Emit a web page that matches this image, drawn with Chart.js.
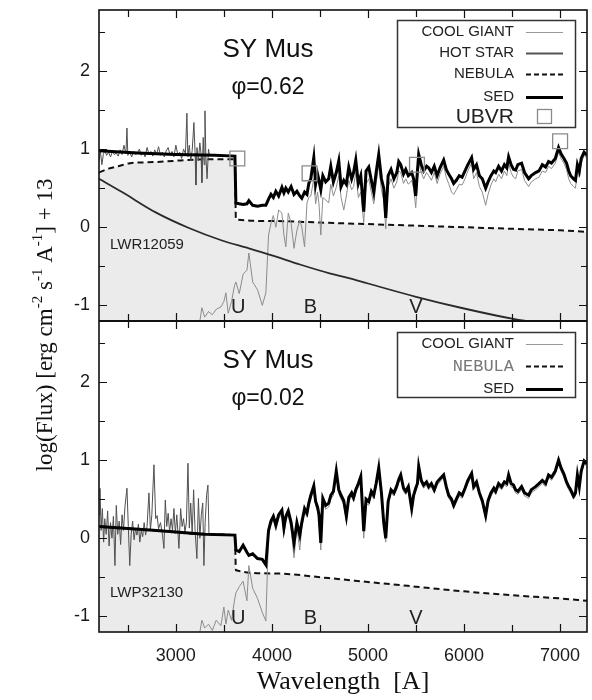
<!DOCTYPE html>
<html><head><meta charset="utf-8">
<script src="https://cdn.jsdelivr.net/npm/chart.js@4.4.1/dist/chart.umd.min.js"></script>
<style>html,body{margin:0;padding:0;background:#fff}#wrap{width:592px;height:700px;position:relative}</style>
</head><body><div id="wrap"><canvas id="c" width="592" height="700"></canvas></div>
<script>
// ---------- axis ticks ----------
const xTickLabels = [3000, 4000, 5000, 6000, 7000];
const xMinorTicks = [2500, 3500, 4500, 5500, 6500];
const yTickLabels = [-1, 0, 1, 2];
const yMinorTicks = [-0.5, 0.5, 1.5, 2.5];

// ---------- photometric bands ----------
const bandNames = ['U', 'B', 'V'];
const bandW = [3650, 4400, 5500];

// ---------- top panel: phi = 0.62 (LWR12059) ----------
const obsTopW = [2200,2215,2230,2245,2260,2280,2300,2320,2340,2360,
  2380,2400,2420,2440,2460,2480,2491,2500,2520,2540,
  2560,2580,2600,2620,2640,2660,2680,2700,2720,2740,
  2760,2780,2800,2820,2840,2860,2880,2900,2920,2940,
  2960,2980,3000,3020,3040,3060,3080,3100,3115,3125,
  3140,3155,3170,3188,3200,3209,3220,3235,3250,3262,
  3271,3285,3295,3303,3312,3325,3340,3350];
const obsTopV = [0.85,0.97,0.80,0.93,0.98,0.92,0.96,0.90,0.97,0.93,
  0.95,0.91,0.99,0.93,1.05,0.94,1.27,0.92,0.96,0.90,
  0.97,0.93,0.95,1.00,0.92,0.96,0.90,1.02,0.94,0.97,
  0.91,0.99,0.93,1.03,0.92,0.96,0.90,0.98,1.02,0.92,
  0.97,0.90,1.05,0.93,0.96,0.88,1.00,0.94,1.46,0.90,
  1.05,0.85,0.98,1.34,0.95,0.54,1.02,0.85,1.08,0.94,
  0.57,1.15,0.80,1.49,0.92,0.62,1.00,0.92];

const sedTopUvW = [2200, 2600, 3000, 3400, 3615];
const sedTopUvV = [0.98, 0.95, 0.93, 0.92, 0.91];

const nebTopW = [2200,2300,2400,2522,2700,2876,3100,3350,3615,3625,4000,4500,5000,5500,6000,6500,7000,7280];
const nebTopV = [0.70,0.75,0.78,0.82,0.83,0.84,0.86,0.87,0.87,0.10,0.08,0.06,0.04,0.02,0.00,-0.02,-0.04,-0.06];

const hotTopW = [2200,2440,2790,3136,3480,3760,4000,4300,4600,4800,5000,5500,6000,6540,6640];
const hotTopV = [0.62,0.45,0.19,-0.01,-0.17,-0.27,-0.36,-0.48,-0.59,-0.65,-0.72,-0.89,-1.04,-1.18,-1.2];

const cgBlueW = [3250,3271,3300,3340,3380,3420,3469,3500,3521,3545,3580,3610];
const cgTopBlueV = [-1.2,-1.03,-1.15,-1.08,-1.12,-1.05,-1.02,-0.95,-0.84,-1.10,-0.95,-0.75];
const cgBotBlueV = [-1.2,-1.05,-1.15,-1.10,-1.18,-1.05,-1.12,-0.88,-1.10,-0.92,-1.05,-0.80];

// optical wavelength grid shared by SED and cool giant spectra
const wOpt = [3625,3660,3700,3740,3760,3800,3850,3900,3937,3965,
  3990,4015,4041,4070,4104,4125,4145,4170,4200,4230,
  4260,4290,4311,4340,4365,4384,4405,4436,4455,4475,
  4490,4509,4530,4560,4591,4613,4640,4670,4696,4720,
  4748,4775,4800,4830,4850,4873,4900,4925,4956,4980,
  5008,5035,5060,5085,5112,5140,5164,5185,5210,5240,
  5270,5300,5320,5341,5370,5393,5420,5455,5475,5497,
  5515,5528,5555,5580,5610,5632,5660,5690,5720,5750,
  5788,5815,5840,5870,5892,5920,5950,5980,6010,6040,
  6079,6100,6130,6160,6190,6225,6250,6280,6310,6329,
  6360,6390,6420,6445,6464,6490,6515,6537,6560,6599,
  6630,6672,6700,6745,6780,6815,6849,6880,6910,6950,
  6984,7010,7040,7067,7090,7110,7140,7160,7180,7200,
  7220,7250,7280];

const sedTopOpt = [0.31,0.30,0.29,0.30,0.34,0.28,0.27,0.28,0.28,0.36,
  0.42,0.38,0.46,0.40,0.51,0.44,0.50,0.45,0.52,0.42,
  0.46,0.40,0.37,0.45,0.42,0.56,0.62,0.89,0.55,0.68,
  0.60,0.48,0.66,0.58,0.62,0.78,0.58,0.70,0.85,0.52,
  0.60,0.55,0.77,0.62,0.70,0.86,0.56,0.66,0.20,0.72,
  0.77,0.60,0.45,0.70,0.93,0.62,0.50,0.12,0.66,0.74,
  0.62,0.70,0.84,0.80,0.68,0.74,0.66,0.70,0.62,0.40,
  0.72,0.93,0.80,0.72,0.78,0.76,0.70,0.78,0.66,0.76,
  0.86,0.74,0.68,0.62,0.56,0.60,0.66,0.64,0.72,0.80,
  0.89,0.74,0.80,0.66,0.62,0.50,0.58,0.66,0.72,0.70,
  0.78,0.72,0.80,0.76,0.90,0.80,0.74,0.73,0.80,0.82,
  0.70,0.62,0.66,0.70,0.72,0.80,0.77,0.84,0.82,0.88,
  1.02,0.94,0.88,0.82,0.72,0.66,0.62,0.60,0.80,0.72,
  0.88,0.96,0.92];

const cgTopOpt = [-0.70,-0.85,-0.60,-0.55,-0.33,-0.70,-0.80,-1.00,-0.84,-0.10,
  0.05,0.15,0.00,0.22,0.18,-0.10,-0.25,0.18,0.05,-0.27,
  -0.04,0.09,0.00,-0.25,0.31,0.38,0.40,0.62,0.30,0.45,
  0.30,-0.10,0.38,0.35,0.31,0.55,0.40,0.51,0.66,0.38,
  0.22,0.40,0.60,0.48,0.52,0.70,0.38,0.45,0.06,0.55,
  0.62,0.45,0.30,0.56,0.80,0.48,0.35,-0.02,0.52,0.62,
  0.50,0.58,0.72,0.70,0.56,0.62,0.55,0.60,0.50,0.25,
  0.60,0.84,0.70,0.62,0.70,0.66,0.60,0.70,0.56,0.68,
  0.78,0.64,0.56,0.45,0.42,0.48,0.55,0.54,0.62,0.72,
  0.82,0.62,0.70,0.52,0.45,0.28,0.42,0.54,0.62,0.58,
  0.68,0.62,0.72,0.66,0.82,0.70,0.64,0.62,0.72,0.74,
  0.60,0.52,0.58,0.62,0.64,0.72,0.70,0.78,0.75,0.82,
  0.96,0.88,0.82,0.74,0.62,0.56,0.52,0.50,0.72,0.64,
  0.82,0.92,0.88];

const ubvrW = [3640, 4392, 5510, 7000];
const ubvrV = [0.88, 0.69, 0.80, 1.10];

// ---------- bottom panel: phi = 0.02 (LWP32130) ----------
const obsBotW = [2200,2210,2222,2235,2248,2260,2275,2290,2305,2320,
  2335,2350,2366,2380,2395,2410,2425,2440,2455,2470,
  2491,2505,2520,2535,2550,2565,2580,2595,2610,2625,
  2640,2655,2670,2685,2700,2720,2735,2750,2772,2790,
  2805,2820,2840,2860,2876,2890,2905,2920,2935,2950,
  2965,2980,2995,3010,3032,3050,3065,3080,3095,3110,
  3126,3140,3155,3170,3185,3200,3219,3235,3250,3265,
  3280,3292,3305,3320,3334,3345];
const obsBotV = [0.30,0.64,0.10,0.38,-0.05,0.25,0.05,0.35,-0.10,0.20,
  0.00,0.28,-0.35,0.42,0.05,0.22,-0.08,0.30,0.10,0.40,
  0.64,0.15,-0.35,0.05,0.22,-0.02,0.12,0.04,0.18,-0.05,
  0.10,0.02,0.20,0.04,0.15,0.58,0.10,0.30,0.94,0.25,
  0.29,0.12,0.20,0.05,-0.13,0.49,0.15,0.32,0.08,0.25,
  0.10,0.38,0.06,0.30,-0.13,0.38,0.15,0.25,0.08,0.20,
  0.96,0.13,0.45,0.05,0.62,0.10,-0.26,0.51,0.00,0.30,
  0.45,-0.35,0.20,0.55,0.68,0.05];

const sedBotUvW = [2200, 2800, 3300, 3615];
const sedBotUvV = [0.15, 0.10, 0.05, 0.04];

const nebBotW = [2200,2800,3300,3615,3625,4000,4591,5000,5500,6000,6500,7000,7280];
const nebBotV = [0.15,0.10,0.05,0.04,-0.41,-0.45,-0.51,-0.56,-0.62,-0.68,-0.73,-0.77,-0.80];

const sedBotOpt = [-0.15,-0.17,-0.09,-0.18,-0.22,-0.20,-0.26,-0.27,-0.34,0.10,
  0.22,0.28,0.17,0.30,0.36,0.13,0.28,0.35,0.20,-0.06,
  0.20,0.04,0.20,0.38,0.32,0.45,0.55,0.67,0.47,0.40,
  0.30,-0.06,0.51,0.42,0.45,0.55,0.60,0.86,0.62,0.55,
  0.48,0.28,0.52,0.58,0.52,0.62,0.70,0.79,0.09,0.50,
  0.47,0.60,0.55,0.70,0.90,0.58,0.20,0.00,0.47,0.62,
  0.58,0.67,0.75,0.81,0.64,0.60,0.66,0.38,0.55,0.64,
  0.70,0.92,0.74,0.68,0.72,0.66,0.70,0.62,0.72,0.76,
  0.81,0.66,0.55,0.50,0.42,0.50,0.58,0.55,0.64,0.74,
  0.83,0.66,0.72,0.58,0.48,0.29,0.48,0.58,0.64,0.60,
  0.70,0.66,0.72,0.70,0.81,0.70,0.68,0.62,0.60,0.66,
  0.58,0.55,0.62,0.66,0.70,0.74,0.70,0.81,0.78,0.86,
  1.00,0.90,0.82,0.72,0.66,0.62,0.54,0.58,0.81,0.66,
  0.86,0.99,0.95];

const cgBotOpt = [-0.70,-0.62,-0.55,-0.80,-0.35,-0.64,-0.77,-0.95,-1.06,0.05,
  0.17,0.24,0.10,0.25,0.31,0.05,0.22,0.30,0.12,-0.25,
  0.14,-0.15,0.14,0.33,0.27,0.40,0.50,0.62,0.42,0.35,
  0.24,-0.15,0.46,0.37,0.40,0.50,0.55,0.82,0.57,0.50,
  0.43,0.22,0.47,0.53,0.47,0.58,0.66,0.75,0.00,0.45,
  0.42,0.56,0.50,0.66,0.86,0.53,0.14,-0.05,0.42,0.58,
  0.54,0.63,0.71,0.77,0.60,0.56,0.62,0.33,0.51,0.60,
  0.66,0.89,0.70,0.64,0.68,0.62,0.66,0.58,0.68,0.72,
  0.78,0.62,0.51,0.46,0.38,0.46,0.54,0.51,0.60,0.70,
  0.80,0.62,0.68,0.54,0.44,0.25,0.44,0.54,0.60,0.56,
  0.66,0.62,0.68,0.66,0.78,0.66,0.64,0.58,0.56,0.62,
  0.54,0.51,0.58,0.62,0.66,0.70,0.66,0.78,0.74,0.82,
  0.97,0.86,0.78,0.68,0.62,0.58,0.50,0.54,0.78,0.62,
  0.82,0.96,0.92];

// ---------- helpers ----------
const pts = (w, v) => w.map((x, i) => ({x: x, y: v[i]}));
const FILL = '#ebebeb';
const C_SED = '#000', C_CG = '#8c8c8c', C_OBS = '#505050', C_HOT = '#2a2a2a', C_NEB = '#111';

const lineDs = (label, data, yAxisID, color, width, order, extra) => Object.assign({
  label, data, yAxisID, xAxisID: 'x', borderColor: color, borderWidth: width,
  pointRadius: 0, fill: false, order, tension: 0
}, extra || {});

const datasets = [
  // top panel
  lineDs('NEBULA', pts(nebTopW, nebTopV), 'yT', C_NEB, 2, 5, {borderDash: [6, 4], fill: 'start', backgroundColor: FILL, cubicInterpolationMode: 'monotone'}),
  lineDs('LWR12059', pts(obsTopW, obsTopV), 'yT', C_OBS, 1, 4),
  lineDs('COOL GIANT', pts(cgBlueW.concat(wOpt), cgTopBlueV.concat(cgTopOpt)), 'yT', C_CG, 1, 3),
  lineDs('HOT STAR', pts(hotTopW, hotTopV), 'yT', C_HOT, 1.8, 2, {cubicInterpolationMode: 'monotone'}),
  lineDs('SED', pts(sedTopUvW.concat(wOpt), sedTopUvV.concat(sedTopOpt)), 'yT', C_SED, 3, 1),
  {label: 'UBVR', data: pts(ubvrW, ubvrV), yAxisID: 'yT', xAxisID: 'x', showLine: false,
   pointStyle: 'rect', pointRadius: 10.5, pointBorderColor: '#8a8a8a', pointBorderWidth: 1.3,
   pointBackgroundColor: 'rgba(0,0,0,0)', borderColor: '#8a8a8a', order: 0},
  // bottom panel
  lineDs('NEBULA', pts(nebBotW, nebBotV), 'yB', C_NEB, 2, 5, {borderDash: [6, 4], fill: 'start', backgroundColor: FILL, cubicInterpolationMode: 'monotone'}),
  lineDs('LWP32130', pts(obsBotW, obsBotV), 'yB', C_OBS, 1, 4),
  lineDs('COOL GIANT', pts(cgBlueW.concat(wOpt), cgBotBlueV.concat(cgBotOpt)), 'yB', C_CG, 1, 3),
  lineDs('SED', pts(sedBotUvW.concat(wOpt), sedBotUvV.concat(sedBotOpt)), 'yB', C_SED, 3, 1)
];

// clip each dataset to its own panel
const panelClip = {
  id: 'panelClip',
  beforeDatasetDraw(chart, args) {
    const ys = chart.scales[args.meta.yAxisID];
    const ca = chart.chartArea, ctx = chart.ctx;
    ctx.save();
    ctx.beginPath();
    ctx.rect(ca.left - 2, ys.top, ca.right - ca.left + 4, ys.bottom - ys.top);
    ctx.clip();
  },
  afterDatasetDraw(chart) { chart.ctx.restore(); }
};

function drawSupText(ctx, parts, cx, cy, big, small, family) {
  let total = 0;
  parts.forEach(p => { ctx.font = (p.sup ? small : big) + 'px ' + family; total += ctx.measureText(p.t).width; });
  let x = cx - total / 2;
  parts.forEach(p => {
    ctx.font = (p.sup ? small : big) + 'px ' + family;
    ctx.fillText(p.t, x, p.sup ? cy - big * 0.42 : cy);
    x += ctx.measureText(p.t).width;
  });
}

const decor = {
  id: 'decor',
  afterDraw(chart) {
    const ctx = chart.ctx, ca = chart.chartArea;
    const xs = chart.scales.x, yT = chart.scales.yT, yB = chart.scales.yB;
    ctx.save();
    ctx.strokeStyle = '#111';
    // ticks
    ctx.lineWidth = 1.2;
    const vTick = (scale, v, len) => {
      const p = Math.round(scale.getPixelForValue(v)) + 0.5;
      ctx.beginPath();
      ctx.moveTo(ca.left, p); ctx.lineTo(ca.left + len, p);
      ctx.moveTo(ca.right, p); ctx.lineTo(ca.right - len, p);
      ctx.stroke();
    };
    [yT, yB].forEach(s => {
      yTickLabels.forEach(v => vTick(s, v, 8));
      yMinorTicks.forEach(v => vTick(s, v, 6));
    });
    const hTick = (v, len) => {
      const p = Math.round(xs.getPixelForValue(v)) + 0.5;
      ctx.beginPath();
      ctx.moveTo(p, yT.top); ctx.lineTo(p, yT.top + len);
      ctx.moveTo(p, yT.bottom); ctx.lineTo(p, yT.bottom - len);
      ctx.moveTo(p, yB.top); ctx.lineTo(p, yB.top + len);
      ctx.moveTo(p, yB.bottom); ctx.lineTo(p, yB.bottom - len);
      ctx.stroke();
    };
    xTickLabels.forEach(v => hTick(v, 8));
    xMinorTicks.forEach(v => hTick(v, 7));
    // frame
    ctx.lineWidth = 1.6;
    ctx.strokeRect(ca.left, ca.top, ca.right - ca.left, ca.bottom - ca.top);
    ctx.lineWidth = 2.2;
    ctx.beginPath(); ctx.moveTo(ca.left, yB.top); ctx.lineTo(ca.right, yB.top); ctx.stroke();

    // panel titles
    ctx.fillStyle = '#111';
    ctx.textAlign = 'center'; ctx.textBaseline = 'middle';
    const cx = 268;
    ctx.font = '26px "Liberation Sans", Arial, sans-serif';
    ctx.fillText('SY Mus', cx, yT.top + 40);
    ctx.fillText('SY Mus', cx, yB.top + 40);
    ctx.font = '23px "Liberation Sans", Arial, sans-serif';
    ctx.fillText('\u03C6=0.62', cx, yT.top + 78);
    ctx.fillText('\u03C6=0.02', cx, yB.top + 78);

    // band letters
    ctx.font = '20px "Liberation Sans", Arial, sans-serif';
    ctx.fillStyle = '#222';
    bandNames.forEach((b, i) => {
      const px = xs.getPixelForValue(bandW[i]);
      ctx.fillText(b, px, yT.getPixelForValue(-1.03));
      ctx.fillText(b, px, yB.getPixelForValue(-1.03));
    });

    // spectrum ids
    ctx.textAlign = 'left';
    ctx.font = '15px "Liberation Sans", Arial, sans-serif';
    ctx.fillStyle = '#222';
    ctx.fillText('LWR12059', ca.left + 11, yT.getPixelForValue(-0.22));
    ctx.fillText('LWP32130', ca.left + 11, yB.getPixelForValue(-0.70));

    // legends
    const drawLegend = (box, rows) => {
      ctx.fillStyle = '#fff';
      ctx.fillRect(box[0], box[1], box[2], box[3]);
      ctx.strokeStyle = '#333'; ctx.lineWidth = 1.5; ctx.setLineDash([]);
      ctx.strokeRect(box[0] + 0.5, box[1] + 0.5, box[2], box[3]);
      rows.forEach(r => {
        ctx.textAlign = 'right'; ctx.textBaseline = 'middle';
        ctx.font = r.font; ctx.fillStyle = r.tc || '#222';
        ctx.fillText(r.t, 514, r.y);
        if (r.sq) {
          ctx.strokeStyle = '#8a8a8a'; ctx.lineWidth = 1.3; ctx.setLineDash([]);
          ctx.strokeRect(537.5, r.y - 7.5, 14, 14);
        } else {
          ctx.strokeStyle = r.c; ctx.lineWidth = r.w; ctx.setLineDash(r.dash || []);
          ctx.beginPath(); ctx.moveTo(526, r.y + 0.5); ctx.lineTo(563, r.y + 0.5); ctx.stroke();
          ctx.setLineDash([]);
        }
      });
    };
    const lf = '15px "Liberation Sans", Arial, sans-serif';
    drawLegend([397, yT.top + 10, 178, 107], [
      {t: 'COOL GIANT', y: yT.top + 22, font: lf, c: '#999', w: 1},
      {t: 'HOT STAR', y: yT.top + 43, font: lf, c: '#555', w: 2},
      {t: 'NEBULA', y: yT.top + 64, font: lf, c: '#111', w: 2, dash: [5, 3]},
      {t: 'SED', y: yT.top + 87, font: lf, c: '#000', w: 3},
      {t: 'UBVR', y: yT.top + 107, font: '21px "Liberation Sans", Arial, sans-serif', sq: true}
    ]);
    drawLegend([397, yB.top + 11, 178, 65], [
      {t: 'COOL GIANT', y: yB.top + 23, font: lf, c: '#999', w: 1},
      {t: 'NEBULA', y: yB.top + 45, font: '17px "Liberation Mono", monospace', tc: '#777', c: '#111', w: 2, dash: [5, 3]},
      {t: 'SED', y: yB.top + 68, font: lf, c: '#000', w: 3}
    ]);

    // axis titles
    ctx.fillStyle = '#111';
    ctx.textAlign = 'center'; ctx.textBaseline = 'alphabetic';
    ctx.font = '26px "Liberation Serif", "Times New Roman", serif';
    ctx.fillText('Wavelength  [A]', (ca.left + ca.right) / 2, 689);

    ctx.save();
    ctx.translate(52, (ca.top + ca.bottom) / 2 + 4);
    ctx.rotate(-Math.PI / 2);
    ctx.textAlign = 'left';
    drawSupText(ctx, [
      {t: 'log(Flux) [erg cm'}, {t: '-2', sup: true}, {t: ' s'}, {t: '-1', sup: true},
      {t: ' A'}, {t: '-1', sup: true}, {t: '] + 13'}
    ], 0, 0, 23, 15, '"Liberation Serif", "Times New Roman", serif');
    ctx.restore();
    ctx.restore();
  }
};

const yScale = (stackWeight) => ({
  type: 'linear', position: 'left', stack: 'panels', stackWeight,
  min: -1.2, max: 2.78,
  grid: {display: false, drawTicks: false}, border: {display: false},
  ticks: {font: {family: '"Liberation Sans", Arial, sans-serif', size: 18}, color: '#1a1a1a', padding: 9,
    callback: v => String(v)},
  afterBuildTicks: a => { a.ticks = yTickLabels.map(v => ({value: v})); },
  afterFit: a => { a.width = 99; a.paddingTop = 0; a.paddingBottom = 0; }
});

new Chart(document.getElementById('c'), {
  type: 'line',
  data: {datasets},
  options: {
    responsive: false, animation: false, devicePixelRatio: 1,
    layout: {autoPadding: false, padding: {top: 10, right: 5, left: 0, bottom: 0}},
    plugins: {legend: {display: false}, tooltip: {enabled: false}, filler: {drawTime: 'beforeDatasetsDraw'}},
    scales: {
      x: {type: 'linear', position: 'bottom', min: 2200, max: 7280,
        grid: {display: false, drawTicks: false}, border: {display: false},
        ticks: {font: {family: '"Liberation Sans", Arial, sans-serif', size: 18}, color: '#1a1a1a', padding: 13,
          maxRotation: 0, callback: v => String(v)},
        afterBuildTicks: a => { a.ticks = xTickLabels.map(v => ({value: v})); },
        afterFit: a => { a.height = 68; a.paddingLeft = 0; a.paddingRight = 0; }},
      yB: yScale(1),
      yT: yScale(1)
    }
  },
  plugins: [panelClip, decor]
});
</script>
</body></html>
